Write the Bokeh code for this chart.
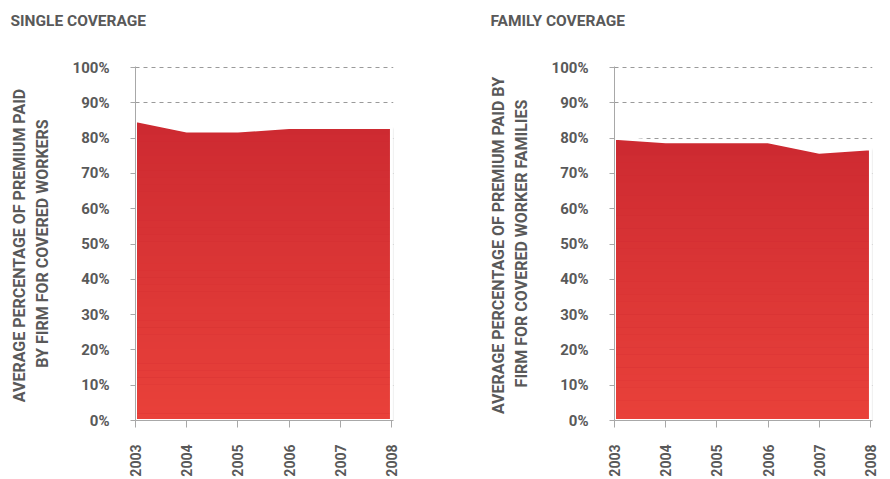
import numpy as np
from bokeh.plotting import figure
from bokeh.layouts import row, column
from bokeh.models import Range1d, FixedTicker, PrintfTickFormatter
from bokeh.core.properties import value
from bokeh.embed import file_html
from bokeh.resources import INLINE

years = [2003, 2004, 2005, 2006, 2007, 2008]
single_pct = [85, 82, 82, 83, 83, 83]
family_pct = [80, 79, 79, 79, 76, 77]
y_ticks = [0, 10, 20, 30, 40, 50, 60, 70, 80, 90, 100]

titles = ["SINGLE COVERAGE", "FAMILY COVERAGE"]
ylabels = ["AVERAGE  PERCENTAGE OF PREMIUM PAID\nBY FIRM FOR COVERED WORKERS",
           "AVERAGE  PERCENTAGE OF PREMIUM PAID BY\nFIRM FOR COVERED WORKER FAMILIES"]

FONT = "Roboto"
TXT = "#595959"
TOP_C = np.array([0xcd, 0x2a, 0x31])
BOT_C = np.array([0xe9, 0x41, 0x3a])

W = 445
TITLE_H = 40
H = 439
TOP = 26
FRAME_H = 357


def hexc(c):
    return "#%02x%02x%02x" % tuple(int(round(v)) for v in c)


def title_fig(title, tx):
    t = figure(width=W, height=TITLE_H, output_backend="svg", toolbar_location=None,
               x_range=Range1d(0, W), y_range=Range1d(0, TITLE_H), min_border=0,
               x_axis_type=None, y_axis_type=None)
    t.outline_line_color = None
    t.xgrid.visible = False
    t.ygrid.visible = False
    t.text(x=[tx], y=[TITLE_H - 20], text=[title], text_font=value(FONT),
           text_font_size="15.5px", text_font_style="bold", text_color=TXT,
           text_baseline="middle", text_align="left")
    return t


def panel(ylabel, vals, left_border, frame_w):
    p = figure(width=W, height=H, output_backend="svg", toolbar_location=None,
               x_range=Range1d(2003, 2008.04), y_range=Range1d(0, 100.3),
               min_border_left=left_border, min_border_right=W - left_border - frame_w,
               min_border_top=TOP, min_border_bottom=H - TOP - FRAME_H)
    p.outline_line_color = None
    p.background_fill_color = "white"

    # grid
    p.xgrid.grid_line_color = None
    p.ygrid.ticker = FixedTicker(ticks=y_ticks)
    p.ygrid.grid_line_color = "#9a9a9a"
    p.ygrid.grid_line_dash = "4 4"
    p.ygrid.grid_line_width = 1.2

    # soft shadow
    for k, a in enumerate([0.07, 0.05, 0.035, 0.02]):
        off = 0.035 * (k + 1)
        p.varea(x=[years[0] + 0.02] + [y + off for y in years[1:]], y1=-0.45 * (k + 1),
                y2=[v - 0.3 * (k + 1) + 0.5 for v in vals],
                fill_color="#000000", fill_alpha=a)

    # area base (top color)
    p.varea(x=years, y1=0, y2=vals, fill_color=hexc(TOP_C))
    # gradient bands below the minimum value
    vmin = min(vals) - 1
    n = 40
    edges = np.linspace(0, vmin, n + 1)
    bottoms = edges[:-1]
    tops = edges[1:]
    cols = []
    for b, tp in zip(bottoms, tops):
        f = ((b + tp) / 2) / max(vals)
        cols.append(hexc(BOT_C + (TOP_C - BOT_C) * f))
    p.quad(left=years[0], right=years[-1], bottom=list(bottoms), top=list(tops + 0.05),
           fill_color=cols, line_color=None)
    # white outline
    ox = [years[0]] + years + [years[-1], years[0]]
    oy = [0] + vals + [0, 0]
    p.line(ox, oy, line_color="white", line_width=3, line_join="miter")

    # axes
    for ax in (p.xaxis[0], p.yaxis[0]):
        ax.axis_line_color = "#a8a8a8"
        ax.major_tick_line_color = "#a8a8a8"
        ax.minor_tick_line_color = None
        ax.major_tick_in = 0
        ax.major_label_text_font = FONT
        ax.major_label_text_font_style = "bold"
        ax.major_label_text_color = TXT
    p.xaxis.major_label_text_font_size = "14px"
    p.yaxis.major_label_text_font_size = "15px"
    p.xaxis.ticker = FixedTicker(ticks=years)
    p.xaxis.major_label_orientation = np.pi / 2
    p.xaxis.major_tick_out = 7
    p.xaxis.major_label_standoff = 17
    p.yaxis.ticker = FixedTicker(ticks=y_ticks)
    p.yaxis.formatter = PrintfTickFormatter(format="%d%%")
    p.yaxis.major_tick_out = 5
    p.yaxis.major_label_standoff = 21
    p.yaxis.axis_label = ylabel
    p.yaxis.axis_label_text_font = FONT
    p.yaxis.axis_label_text_font_style = "bold"
    p.yaxis.axis_label_text_font_size = "16px"
    p.yaxis.axis_label_text_color = TXT
    p.yaxis.axis_label_standoff = 18
    return p


t1 = title_fig(titles[0], 10)
t2 = title_fig(titles[1], 45)
p1 = panel(ylabels[0], single_pct, 135, 258)
p2 = panel(ylabels[1], family_pct, 169, 258)
layout = column(row(t1, t2), row(p1, p2))

open("out.html", "w").write(file_html(layout, INLINE))
